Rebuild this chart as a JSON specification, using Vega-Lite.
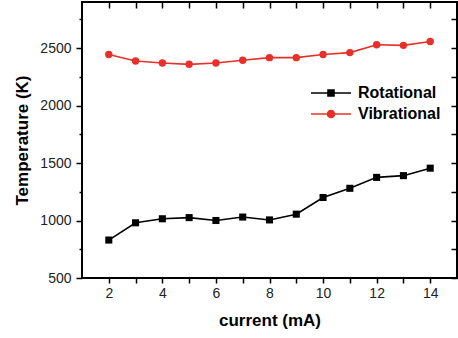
{
  "$schema": "https://vega.github.io/schema/vega-lite/v6.json",
  "width": 375,
  "height": 276,
  "autosize": {"type": "none"},
  "padding": {"left": 82, "top": 2, "right": 1, "bottom": 60},
  "background": "white",
  "config": {
    "font": "Liberation Sans",
    "view": {"stroke": "#000", "strokeWidth": 2},
    "axis": {"grid": false, "domain": false, "tickColor": "#000", "tickWidth": 1.5, "labelFont": "Liberation Sans", "labelFontSize": 14, "labelColor": "#222", "titleFont": "Liberation Sans", "titleFontSize": 17, "titleFontWeight": "bold", "titleColor": "#000"}
  },
  "data": {"values": [
    {"current": 2, "temp": 830, "series": "Rotational"},
    {"current": 3, "temp": 980, "series": "Rotational"},
    {"current": 4, "temp": 1015, "series": "Rotational"},
    {"current": 5, "temp": 1025, "series": "Rotational"},
    {"current": 6, "temp": 1000, "series": "Rotational"},
    {"current": 7, "temp": 1030, "series": "Rotational"},
    {"current": 8, "temp": 1005, "series": "Rotational"},
    {"current": 9, "temp": 1055, "series": "Rotational"},
    {"current": 10, "temp": 1200, "series": "Rotational"},
    {"current": 11, "temp": 1280, "series": "Rotational"},
    {"current": 12, "temp": 1375, "series": "Rotational"},
    {"current": 13, "temp": 1390, "series": "Rotational"},
    {"current": 14, "temp": 1455, "series": "Rotational"},
    {"current": 2, "temp": 2443, "series": "Vibrational"},
    {"current": 3, "temp": 2387, "series": "Vibrational"},
    {"current": 4, "temp": 2370, "series": "Vibrational"},
    {"current": 5, "temp": 2358, "series": "Vibrational"},
    {"current": 6, "temp": 2370, "series": "Vibrational"},
    {"current": 7, "temp": 2393, "series": "Vibrational"},
    {"current": 8, "temp": 2416, "series": "Vibrational"},
    {"current": 9, "temp": 2416, "series": "Vibrational"},
    {"current": 10, "temp": 2443, "series": "Vibrational"},
    {"current": 11, "temp": 2460, "series": "Vibrational"},
    {"current": 12, "temp": 2528, "series": "Vibrational"},
    {"current": 13, "temp": 2523, "series": "Vibrational"},
    {"current": 14, "temp": 2556, "series": "Vibrational"}
  ]},
  "layer": [
    {
      "mark": {"type": "line", "strokeWidth": 1.6},
      "encoding": {
        "x": {"field": "current", "type": "quantitative", "scale": {"domain": [1, 15], "nice": false, "zero": false},
          "axis": {"orient": "bottom", "values": [2, 4, 6, 8, 10, 12, 14], "tickSize": 5, "labelPadding": 3, "title": "current (mA)", "titleY": 42, "titleBaseline": "middle"}},
        "y": {"field": "temp", "type": "quantitative", "scale": {"domain": [500, 2900], "nice": false, "zero": false},
          "axis": {"orient": "left", "values": [500, 1000, 1500, 2000, 2500], "format": "d", "tickSize": 6, "labelPadding": 5, "title": "Temperature (K)", "titleX": -60, "titleY": 138, "titleAngle": -90, "titleBaseline": "middle", "titleAlign": "center"}},
        "color": {"field": "series", "type": "nominal",
          "scale": {"domain": ["Rotational", "Vibrational"], "range": ["#000000", "#e8302a"]},
          "legend": {"orient": "none", "legendX": 241, "legendY": 83, "title": null,
            "labelFont": "Liberation Sans", "labelFontSize": 16, "labelFontWeight": "bold", "labelColor": "#000", "labelOffset": 19, "labelLimit": 300,
            "symbolSize": 100, "rowPadding": 5,
            "encode": {"symbols": {"update": {
              "shape": {"signal": "datum.value === 'Rotational' ? 'M-4,0H4M-0.6,-0.6H0.6V0.6H-0.6Z' : 'M-4,0H4M0.7,0A0.7,0.7,0,1,1,-0.7,0A0.7,0.7,0,1,1,0.7,0Z'"},
              "fill": {"signal": "datum.value === 'Rotational' ? '#000000' : '#e8302a'"},
              "stroke": {"signal": "datum.value === 'Rotational' ? '#000000' : '#e8302a'"},
              "strokeWidth": {"value": 1.6},
              "size": {"value": 100},
              "opacity": {"value": 1},
              "fillOpacity": {"value": 1},
              "strokeOpacity": {"value": 1}
            }}}}
        }
      }
    },
    {
      "transform": [{"filter": "datum.series === 'Rotational'"}],
      "mark": {"type": "point", "shape": "square", "filled": true, "color": "#000000", "size": 50, "opacity": 1},
      "encoding": {
        "x": {"field": "current", "type": "quantitative",
          "axis": {"orient": "top", "values": [2, 3, 4, 5, 6, 7, 8, 9, 10, 11, 12, 13, 14], "tickSize": 6, "offset": -6, "labels": false, "title": null}},
        "y": {"field": "temp", "type": "quantitative",
          "axis": {"orient": "right", "values": [500, 750, 1000, 1250, 1500, 1750, 2000, 2250, 2500, 2750], "tickSize": 6, "offset": -6, "labels": false, "title": null}}
      }
    },
    {
      "transform": [{"filter": "datum.series === 'Vibrational'"}],
      "mark": {"type": "point", "shape": "circle", "filled": true, "color": "#e8302a", "size": 55, "opacity": 1},
      "encoding": {
        "x": {"field": "current", "type": "quantitative",
          "axis": {"orient": "bottom", "values": [3, 5, 7, 9, 11, 13], "tickSize": 5, "labels": false, "title": null}},
        "y": {"field": "temp", "type": "quantitative",
          "axis": {"orient": "left", "values": [750, 1250, 1750, 2250, 2750], "tickSize": 3, "labels": false, "title": null}}
      }
    }
  ],
  "resolve": {"axis": {"x": "independent", "y": "independent"}}
}
